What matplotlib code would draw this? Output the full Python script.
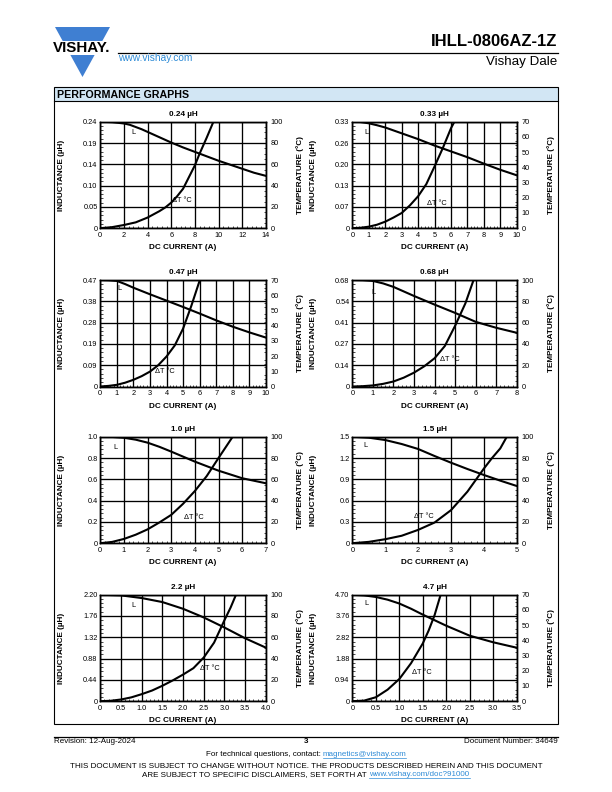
import matplotlib
matplotlib.use("Agg")
import matplotlib.pyplot as plt
from matplotlib.patches import Polygon, Rectangle
from matplotlib.ticker import AutoMinorLocator
import numpy as np

plt.rcParams["font.family"] = ["Liberation Sans", "DejaVu Sans"]

W, H = 612, 792
BLUE = "#3f7fd2"
LINK = "#2e8bd6"

# ---- chart values ----
titles = ["0.24 µH", "0.33 µH", "0.47 µH", "0.68 µH",
          "1.0 µH", "1.5 µH", "2.2 µH", "4.7 µH"]

x_ticks = [
    [0, 2, 4, 6, 8, 10, 12, 14],
    [0, 1, 2, 3, 4, 5, 6, 7, 8, 9, 10],
    [0, 1, 2, 3, 4, 5, 6, 7, 8, 9, 10],
    [0, 1, 2, 3, 4, 5, 6, 7, 8],
    [0, 1, 2, 3, 4, 5, 6, 7],
    [0, 1, 2, 3, 4, 5],
    [0, 0.5, 1.0, 1.5, 2.0, 2.5, 3.0, 3.5, 4.0],
    [0, 0.5, 1.0, 1.5, 2.0, 2.5, 3.0, 3.5],
]
x_labels = [
    ["0", "2", "4", "6", "8", "10", "12", "14"],
    ["0", "1", "2", "3", "4", "5", "6", "7", "8", "9", "10"],
    ["0", "1", "2", "3", "4", "5", "6", "7", "8", "9", "10"],
    ["0", "1", "2", "3", "4", "5", "6", "7", "8"],
    ["0", "1", "2", "3", "4", "5", "6", "7"],
    ["0", "1", "2", "3", "4", "5"],
    ["0", "0.5", "1.0", "1.5", "2.0", "2.5", "3.0", "3.5", "4.0"],
    ["0", "0.5", "1.0", "1.5", "2.0", "2.5", "3.0", "3.5"],
]

l_max = [0.24, 0.33, 0.47, 0.68, 1.0, 1.5, 2.2, 4.7]
l_labels = [
    ["0", "0.05", "0.10", "0.14", "0.19", "0.24"],
    ["0", "0.07", "0.13", "0.20", "0.26", "0.33"],
    ["0", "0.09", "0.19", "0.28", "0.38", "0.47"],
    ["0", "0.14", "0.27", "0.41", "0.54", "0.68"],
    ["0", "0.2", "0.4", "0.6", "0.8", "1.0"],
    ["0", "0.3", "0.6", "0.9", "1.2", "1.5"],
    ["0", "0.44", "0.88", "1.32", "1.76", "2.20"],
    ["0", "0.94", "1.88", "2.82", "3.76", "4.70"],
]

temp_ticks = [
    [0, 20, 40, 60, 80, 100],
    [0, 10, 20, 30, 40, 50, 60, 70],
    [0, 10, 20, 30, 40, 50, 60, 70],
    [0, 20, 40, 60, 80, 100],
    [0, 20, 40, 60, 80, 100],
    [0, 20, 40, 60, 80, 100],
    [0, 20, 40, 60, 80, 100],
    [0, 10, 20, 30, 40, 50, 60, 70],
]

# inductance curves (A, µH)
l_cur_024 = [0, 1, 2, 2.5, 3, 3.5, 4, 5, 6, 7, 8, 9, 10, 11, 12, 13, 14]
l_val_024 = [0.240, 0.239, 0.236, 0.233, 0.228, 0.223, 0.217, 0.205, 0.193,
             0.182, 0.172, 0.162, 0.152, 0.143, 0.134, 0.125, 0.118]
l_cur_033 = [0, 0.5, 1, 1.5, 2, 2.5, 3, 4, 5, 6, 7, 8, 9, 10]
l_val_033 = [0.330, 0.329, 0.325, 0.319, 0.312, 0.303, 0.294, 0.276, 0.256,
             0.238, 0.220, 0.200, 0.181, 0.164]
l_cur_047 = [0, 0.5, 1, 1.5, 2, 3, 4, 5, 6, 7, 8, 9, 10]
l_val_047 = [0.470, 0.469, 0.466, 0.452, 0.436, 0.407, 0.379, 0.351, 0.322,
             0.292, 0.264, 0.239, 0.216]
l_cur_068 = [0, 0.5, 1, 1.5, 2, 2.5, 3, 4, 5, 6, 7, 8]
l_val_068 = [0.680, 0.679, 0.674, 0.658, 0.636, 0.607, 0.578, 0.523, 0.470,
             0.413, 0.375, 0.343]
l_cur_100 = [0, 0.5, 1, 1.5, 2, 2.5, 3, 4, 5, 6, 7]
l_val_100 = [1.000, 0.998, 0.990, 0.972, 0.944, 0.905, 0.860, 0.766, 0.681,
             0.610, 0.563]
l_cur_150 = [0, 0.5, 1.0, 1.5, 2.0, 2.5, 3.0, 3.5, 4.0, 4.5, 5.0]
l_val_150 = [1.500, 1.486, 1.453, 1.397, 1.327, 1.228, 1.134, 1.045, 0.961,
             0.881, 0.806]
l_cur_220 = [0, 0.5, 1.0, 1.5, 2.0, 2.5, 3.0, 3.5, 4.0]
l_val_220 = [2.200, 2.186, 2.131, 2.048, 1.909, 1.730, 1.522, 1.300, 1.107]
l_cur_470 = [0, 0.25, 0.5, 0.75, 1.0, 1.25, 1.5, 2.0, 2.5, 3.0, 3.5]
l_val_470 = [4.70, 4.67, 4.60, 4.48, 4.31, 4.08, 3.82, 3.33, 2.89, 2.60, 2.36]

# temperature rise curves (A, °C)
t_cur_024 = [0, 1, 2, 3, 4, 5, 5.5, 6, 6.5, 7, 7.5, 8, 8.4, 9, 9.57]
t_val_024 = [0, 1, 3, 5.5, 10, 16, 19.5, 24, 30, 37, 48, 59, 70, 85, 100]
t_cur_033 = [0, 0.5, 1, 1.5, 2, 2.5, 3, 3.5, 4, 4.5, 5, 5.5, 6, 6.21]
t_val_033 = [0, 0.3, 1, 2.3, 4.3, 7, 10, 15, 21, 29, 40.6, 52.6, 65.7, 70]
t_cur_047 = [0, 0.5, 1, 1.5, 2, 2.5, 3, 3.5, 4, 4.5, 5, 5.5, 6]
t_val_047 = [0, 0.4, 1.1, 2.5, 4.4, 6.8, 9.8, 14, 19.7, 27, 38, 53, 69.5]
t_cur_068 = [0, 0.5, 1, 1.5, 2, 2.5, 3, 3.5, 4, 4.5, 5, 5.5, 5.9]
t_val_068 = [0, 0.3, 1, 2.5, 4.7, 8.3, 13, 19, 26.5, 38, 57, 78, 100]
t_cur_100 = [0, 0.5, 1, 1.5, 2, 2.5, 3, 3.5, 4, 4.5, 5, 5.3, 5.6]
t_val_100 = [0, 1.2, 4, 8, 13, 19.5, 26.6, 37, 49, 63, 80, 90, 100]
t_cur_150 = [0, 0.5, 1.0, 1.5, 2.0, 2.5, 3.0, 3.5, 4.0, 4.25, 4.5, 4.7]
t_val_150 = [0, 1.25, 3.75, 7, 12.5, 19.4, 31, 48.4, 70, 80, 89, 100]
t_cur_220 = [0, 0.25, 0.5, 0.75, 1.0, 1.25, 1.5, 1.75, 2.0, 2.25, 2.5, 2.75,
             3.0, 3.15, 3.28]
t_val_220 = [0, 0.4, 1.6, 3.6, 6.6, 10, 14.5, 19.5, 25, 31, 41, 55, 76, 88, 100]
t_cur_470 = [0, 0.25, 0.5, 0.75, 1.0, 1.25, 1.5, 1.625, 1.75, 1.88]
t_val_470 = [0, 0.4, 2.6, 7.6, 14.6, 25, 38, 46.5, 56.5, 70]

l_curves = [(l_cur_024, l_val_024), (l_cur_033, l_val_033), (l_cur_047, l_val_047),
            (l_cur_068, l_val_068), (l_cur_100, l_val_100), (l_cur_150, l_val_150),
            (l_cur_220, l_val_220), (l_cur_470, l_val_470)]
t_curves = [(t_cur_024, t_val_024), (t_cur_033, t_val_033), (t_cur_047, t_val_047),
            (t_cur_068, t_val_068), (t_cur_100, t_val_100), (t_cur_150, t_val_150),
            (t_cur_220, t_val_220), (t_cur_470, t_val_470)]

# where the "L" and "ΔT °C" tags sit (data coords of each axis)
l_tag = [(2.65, 0.216), (0.71, 0.297), (1.01, 0.433), (0.93, 0.60),
         (0.57, 0.90), (0.33, 1.37), (0.76, 1.98), (0.26, 4.31)]
t_tag = [(6.1, 25.6), (4.56, 16.3), (3.32, 9.8), (4.28, 24.9),
         (3.53, 24.0), (1.86, 25.0), (2.41, 30.8), (1.27, 19.1)]

# ---- page layout (pixels) ----
col_left = [100.3, 352.4]
col_width = [165.5, 164.3]
row_top = [121.7, 280.0, 436.7, 594.7]
row_height = 106.5

fig = plt.figure(figsize=(W / 100, H / 100), dpi=100)
page = fig.add_axes([0, 0, 1, 1])
page.set_xlim(0, W)
page.set_ylim(H, 0)
page.axis("off")

# logo
page.add_patch(Polygon([(55, 27), (110, 27), (82.5, 77)], closed=True,
                       facecolor=BLUE, edgecolor="none"))
page.add_patch(Rectangle((48, 40.5), 66, 14.5, facecolor="white", edgecolor="none"))
page.text(81.8, 47.8, "VISHAY.", fontsize=10.9, fontweight="bold",
          ha="center", va="center")
page.text(118, 58, "www.vishay.com", fontsize=7.3, color=LINK, ha="left", va="center")

# header
page.plot([118, 557.5], [52.5, 52.5], color="black", lw=0.9)
page.text(557.5, 41, "IHLL-0806AZ-1Z", fontsize=12, fontweight="bold",
          ha="right", va="center")
page.text(557.5, 62.5, "Vishay Dale", fontsize=9.6, ha="right", va="center")

# section box
page.add_patch(Rectangle((53.5, 87), 504.5, 14, facecolor="#d2e6f4",
                         edgecolor="none"))
page.add_patch(Rectangle((53.5, 87), 504.5, 637, facecolor="none",
                         edgecolor="black", lw=0.8))
page.plot([53.5, 558], [101, 101], color="black", lw=0.8)
page.text(57, 94.5, "PERFORMANCE GRAPHS", fontsize=7.7, fontweight="bold",
          ha="left", va="center")

TICK_FS = 5.3
LABEL_FS = 5.9

for i in range(8):
    r, c = divmod(i, 2)
    rect = [col_left[c] / W, 1 - (row_top[r] + row_height) / H,
            col_width[c] / W, row_height / H]
    ax = fig.add_axes(rect)
    ax.set_xlim(x_ticks[i][0], x_ticks[i][-1])
    ax.set_ylim(0, l_max[i])
    ax.set_xticks(x_ticks[i])
    ax.set_xticklabels(x_labels[i])
    ax.set_yticks(np.linspace(0, l_max[i], len(l_labels[i])))
    ax.set_yticklabels(l_labels[i])
    ax.grid(True, color="black", linewidth=0.95)
    ax.xaxis.set_minor_locator(AutoMinorLocator(5))
    ax.yaxis.set_minor_locator(AutoMinorLocator(5))
    ax.tick_params(which="both", direction="in", labelsize=TICK_FS,
                   top=False, right=False)
    ax.tick_params(which="major", length=0)
    ax.tick_params(axis="x", which="major", pad=2.6)
    ax.tick_params(axis="y", which="major", pad=2.0)
    ax.tick_params(which="minor", length=1.8, width=0.5)
    for s in ax.spines.values():
        s.set_linewidth(1.0)

    lx, ly = l_curves[i]
    ax.plot(lx, ly, color="black", lw=1.5, solid_joinstyle="round")
    ax.text(l_tag[i][0], l_tag[i][1], "L", fontsize=TICK_FS, ha="left", va="center")

    ax.set_xlabel("DC CURRENT (A)", fontsize=LABEL_FS, fontweight="bold")
    ax.xaxis.set_label_coords(0.5, -0.152)
    ax.set_ylabel("INDUCTANCE (µH)", fontsize=LABEL_FS, fontweight="bold")
    ax.yaxis.set_label_coords(-0.213, 0.5)
    ax.text(0.5, 1.072, titles[i], transform=ax.transAxes, fontsize=LABEL_FS,
            fontweight="bold", ha="center", va="center")

    ax2 = ax.twinx()
    ax2.set_ylim(0, temp_ticks[i][-1])
    ax2.set_yticks(temp_ticks[i])
    ax2.set_yticklabels([str(t) for t in temp_ticks[i]])
    ax2.yaxis.set_minor_locator(AutoMinorLocator(4))
    ax2.tick_params(which="both", direction="in", labelsize=TICK_FS)
    ax2.tick_params(which="major", length=0, pad=3.6)
    ax2.tick_params(which="minor", length=1.8, width=0.5)
    for s in ax2.spines.values():
        s.set_linewidth(1.0)
    tx, ty = t_curves[i]
    ax2.plot(tx, ty, color="black", lw=1.5, solid_joinstyle="round")
    ax2.text(t_tag[i][0], t_tag[i][1], "ΔT °C", fontsize=TICK_FS,
             ha="left", va="center")
    ax2.set_ylabel("TEMPERATURE (°C)", fontsize=LABEL_FS, fontweight="bold")
    ax2.yaxis.set_label_coords(1.185, 0.5)

# footer
page.plot([54, 558], [737, 737], color="black", lw=0.9)
FOOT_FS = 5.8
page.text(54, 741.5, "Revision: 12-Aug-2024", fontsize=FOOT_FS, ha="left", va="center")
page.text(306, 741.5, "3", fontsize=FOOT_FS, fontweight="bold", ha="center", va="center")
page.text(558, 741.5, "Document Number: 34649", fontsize=FOOT_FS, ha="right",
          va="center")
page.text(306, 766.5, "THIS DOCUMENT IS SUBJECT TO CHANGE WITHOUT NOTICE. THE PRODUCTS "
          "DESCRIBED HEREIN AND THIS DOCUMENT", fontsize=FOOT_FS, ha="center",
          va="center")

renderer = fig.canvas.get_renderer()


def linked_line(plain, link, y):
    # black text followed by an underlined blue link, centred on the page
    t1 = page.text(0, y, plain, fontsize=FOOT_FS, ha="left", va="center")
    t2 = page.text(0, y, link, fontsize=FOOT_FS, color=LINK, ha="left", va="center")
    w1 = t1.get_window_extent(renderer).width
    w2 = t2.get_window_extent(renderer).width
    x0 = W / 2 - (w1 + w2) / 2
    t1.set_x(x0)
    t2.set_x(x0 + w1)
    page.plot([x0 + w1, x0 + w1 + w2], [y + 3.6, y + 3.6], color=LINK, lw=0.5)


linked_line("For technical questions, contact: ", "magnetics@vishay.com", 754.5)
linked_line("ARE SUBJECT TO SPECIFIC DISCLAIMERS, SET FORTH AT ",
            "www.vishay.com/doc?91000", 774.5)

fig.savefig("out.png", dpi=100)
